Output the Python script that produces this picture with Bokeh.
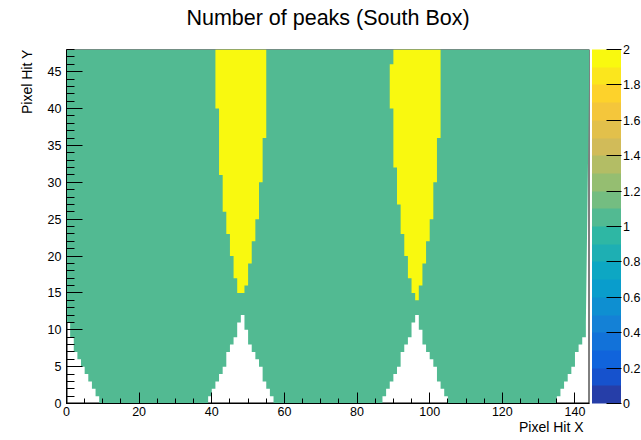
import math
import numpy as np
from bokeh.plotting import figure
from bokeh.models import (LinearColorMapper, ColorBar, FixedTicker, Title, LinearAxis,
                          CustomJSTickFormatter, Range1d)
from bokeh.embed import file_html
from bokeh.resources import INLINE

# ---------------- data ----------------
n_x_bins = 144
n_y_bins = 48
x_ticks = [0, 20, 40, 60, 80, 100, 120, 140]
y_ticks = [0, 5, 10, 15, 20, 25, 30, 35, 40, 45]
z_ticks = [0, 0.2, 0.4, 0.6, 0.8, 1.0, 1.2, 1.4, 1.6, 1.8, 2.0]
z_min, z_max, n_contours = 0, 2, 20

base_value = 1          # one peak nearly everywhere
two_peaks = 2

# empty cells (no entries) at the bottom; one entry per row from y = 0 upward
empty_left_stop = [9, 8, 7, 6, 5, 4, 3, 2, 2, 1, 1]
empty_mid1_start = [39, 40, 41, 42, 43, 44, 44, 45, 46, 47, 47, 48]
empty_mid1_stop = [57, 56, 55, 54, 54, 53, 52, 51, 50, 50, 49, 49]
empty_mid2_start = [87, 88, 89, 90, 91, 92, 92, 93, 94, 95, 95, 96]
empty_mid2_stop = [105, 104, 103, 102, 102, 101, 100, 99, 98, 98, 97, 97]
empty_right_start = [135, 136, 137, 138, 139, 140, 140, 141, 142, 143, 143]

# two-peak cells; one entry per row from the first row upward to the top
two_peak1_y0 = 15
two_peak1_start = [47, 47, 46, 46, 46, 45, 45, 45, 44, 44, 44, 43, 43, 43, 43, 43, 42,
                   42, 42, 42, 42, 42, 42, 42, 42, 41, 41, 41, 41, 41, 41, 41, 41]
two_peak1_stop = [49, 50, 50, 50, 51, 51, 51, 52, 52, 52, 53, 53, 53, 53, 53, 54, 54,
                  54, 54, 54, 54, 55, 55, 55, 55, 55, 55, 55, 55, 55, 55, 55, 55]
two_peak2_y0 = 14
two_peak2_start = [96, 95, 95, 94, 94, 94, 93, 93, 93, 92, 92, 92, 92, 91, 91, 91, 91,
                   91, 90, 90, 90, 90, 90, 90, 90, 90, 89, 89, 89, 89, 89, 89, 90, 90]
two_peak2_stop = [97, 97, 98, 98, 98, 99, 99, 99, 100, 100, 100, 101, 101, 101, 101, 101, 102,
                  102, 102, 102, 102, 102, 103, 103, 103, 103, 103, 103, 103, 103, 103, 103, 103, 103]

# ROOT kBird palette definition
bird_stops = [0.0000, 0.1250, 0.2500, 0.3750, 0.5000, 0.6250, 0.7500, 0.8750, 1.0000]
bird_r = [0.2082, 0.0592, 0.0780, 0.0232, 0.1802, 0.5301, 0.8186, 0.9956, 0.9764]
bird_g = [0.1664, 0.3599, 0.5041, 0.6419, 0.7178, 0.7492, 0.7328, 0.7862, 0.9832]
bird_b = [0.5293, 0.8684, 0.8385, 0.7914, 0.6425, 0.4662, 0.3499, 0.1968, 0.0539]

title_text = "Number of peaks (South Box)"
x_title = "Pixel Hit X"
y_title = "Pixel Hit Y"


# ---------------- outlines of the regions (staircases of whole bins) ----------------
def up_along(xs, y0=0):
    pts = []
    for k, x in enumerate(xs):
        pts += [(x, y0 + k), (x, y0 + k + 1)]
    return pts


def down_along(xs, y0=0):
    pts = []
    for k in reversed(range(len(xs))):
        pts += [(xs[k], y0 + k + 1), (xs[k], y0 + k)]
    return pts


# one-peak region: whole frame minus the empty regions at the bottom
green = [(0, n_y_bins), (n_x_bins, n_y_bins)]
green += down_along(empty_right_start)
green += up_along(empty_mid2_stop) + down_along(empty_mid2_start)
green += up_along(empty_mid1_stop) + down_along(empty_mid1_start)
green += up_along(empty_left_stop)
green += [(0, len(empty_left_stop))]

yel1 = up_along(two_peak1_start, two_peak1_y0) + down_along(two_peak1_stop, two_peak1_y0)
yel2 = up_along(two_peak2_start, two_peak2_y0) + down_along(two_peak2_stop, two_peak2_y0)

region_xs = [[q[0] for q in green], [q[0] for q in yel1], [q[0] for q in yel2]]
region_ys = [[q[1] for q in green], [q[1] for q in yel1], [q[1] for q in yel2]]
region_v = [float(base_value), float(two_peaks), float(two_peaks)]


def root_gradient(n=255):
    cols = []
    for g in range(1, len(bird_stops)):
        ncg = int(math.floor(n * bird_stops[g]) - math.floor(n * bird_stops[g - 1]))
        for c in range(ncg):
            f = c / ncg
            r = bird_r[g - 1] + f * (bird_r[g] - bird_r[g - 1])
            gg = bird_g[g - 1] + f * (bird_g[g] - bird_g[g - 1])
            bb = bird_b[g - 1] + f * (bird_b[g] - bird_b[g - 1])
            cols.append("#%02x%02x%02x" % (round(r * 255), round(gg * 255), round(bb * 255)))
    return cols


grad = root_gradient()
palette = [grad[int((i + 0.99) * len(grad) / n_contours)] for i in range(n_contours)]
mapper = LinearColorMapper(palette=palette, low=z_min, high=z_max)

# ---------------- figure ----------------
W, H = 641, 440
ML, MR, MT, MB = 66, 52, 49, 37
FW, FH = W - ML - MR, H - MT - MB
FONT = "Liberation Sans"

p = figure(width=W, height=H, toolbar_location=None, tools="",
           output_backend="svg", x_range=Range1d(0, n_x_bins), y_range=Range1d(0, n_y_bins),
           min_border_left=ML, min_border_right=MR, min_border_top=MT, min_border_bottom=MB)
p.title = Title(text=title_text, align="center", vertical_align="top", text_font=FONT,
                text_font_size="21.5px", text_font_style="normal", text_color="black",
                standoff=0)
p.background_fill_color = "white"
p.border_fill_color = "white"
p.outline_line_color = None
p.grid.visible = False

xax = p.below[0]
yax = p.left[0]

# frame box (drawn beneath the cells, like ROOT)
p.quad(left=[0], right=[n_x_bins], bottom=[0], top=[n_y_bins], fill_color=None,
       line_color="black", line_width=2)

p.patches(xs=region_xs, ys=region_ys,
          fill_color=[palette[min(int((v - z_min) / (z_max - z_min) * n_contours), n_contours - 1)]
                      for v in region_v], line_color=None)

for ax in (xax, yax):
    ax.axis_line_color = "black"
    ax.major_tick_line_color = "black"
    ax.minor_tick_line_color = "black"
    ax.major_tick_out = 0
    ax.minor_tick_out = 0
    ax.major_label_text_font = FONT
    ax.major_label_text_font_size = "12.5px"
    ax.major_label_text_color = "black"

xax.ticker = FixedTicker(ticks=x_ticks, minor_ticks=list(range(0, n_x_bins + 1, 5)))
yax.ticker = FixedTicker(ticks=y_ticks, minor_ticks=list(range(0, n_y_bins + 1, 1)))
xax.major_tick_in = 11
xax.minor_tick_in = 5
yax.major_tick_in = 16
yax.minor_tick_in = 8
xax.major_label_standoff = 3
yax.major_label_standoff = 5

# spacer between the title and the frame: one undrawn tick, no visible label, no line
spacer = LinearAxis(ticker=FixedTicker(ticks=[n_x_bins / 2], minor_ticks=[]),
                    axis_line_color=None, major_tick_line_color=None,
                    minor_tick_line_color=None, major_tick_in=0, major_tick_out=18,
                    minor_tick_in=0, minor_tick_out=0, major_label_standoff=0,
                    major_label_text_font_size="0px", major_label_text_color=None,
                    major_label_overrides={n_x_bins / 2: ""})
p.add_layout(spacer, "above")

p.add_layout(Title(text=x_title, align="right", offset=6, vertical_align="top", standoff=0,
                   text_font=FONT, text_font_size="14px", text_font_style="normal",
                   text_color="black"), "below")
p.add_layout(Title(text=y_title, align="right", offset=0, standoff=20,
                   text_font=FONT, text_font_size="14px", text_font_style="normal",
                   text_color="black"), "left")

cb = ColorBar(color_mapper=mapper, orientation="vertical", location=(FW + 2.5, 0),
              width=29, height=FH, padding=0, margin=0,
              ticker=FixedTicker(ticks=z_ticks),
              formatter=CustomJSTickFormatter(code="return String(Math.round(tick*10)/10);"),
              major_tick_in=15, major_tick_out=0, major_tick_line_color="black",
              minor_tick_line_color=None, label_standoff=2,
              major_label_text_font=FONT, major_label_text_font_size="12.5px",
              major_label_text_color="black", bar_line_color=None,
              border_line_color=None, background_fill_color=None)
p.add_layout(cb, "center")

open("out.html", "w").write(file_html(p, INLINE))
